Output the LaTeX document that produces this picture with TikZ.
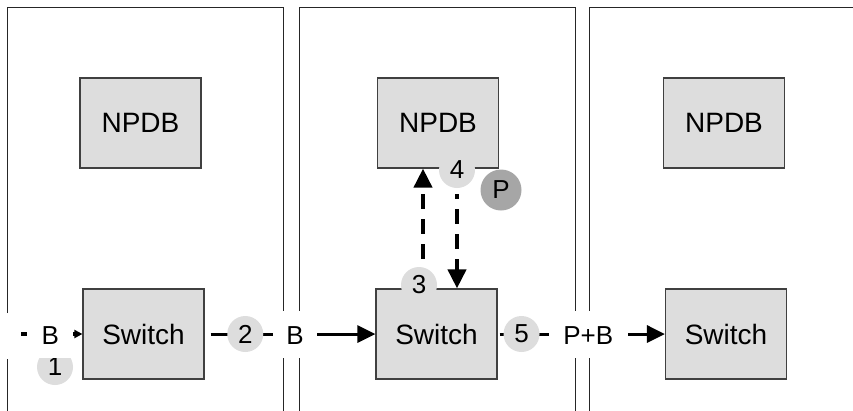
\documentclass[tikz,border=0pt]{standalone}
\usepackage{fontspec}
\setmainfont{Liberation Sans}
\usetikzlibrary{arrows.meta,calc}
\definecolor{boxgray}{HTML}{DDDDDD}
\definecolor{pgray}{HTML}{A6A6A6}
\definecolor{edgegray}{HTML}{404040}
\begin{document}
\begin{tikzpicture}[x=1pt,y=-1pt,
  panel/.style={draw=black!85,line width=1pt},
  unit/.style={draw=edgegray,line width=1.2pt,fill=boxgray,minimum width=121pt,minimum height=90pt,inner sep=0pt,font=\fontsize{28}{30}\selectfont},
  num/.style={circle,fill=boxgray,minimum size=36pt,inner sep=0pt,font=\fontsize{26}{28}\selectfont},
  msg/.style={fill=white,inner xsep=13pt,inner ysep=0pt,text height=20pt,text depth=0pt,minimum height=47pt,font=\fontsize{26}{28}\selectfont},
  flow/.style={line width=3pt,-{Triangle[length=18pt,width=17pt]}},
  query/.style={line width=4pt,dash pattern=on 15pt off 10pt,-{Triangle[length=19pt,width=18pt]}},
]
\useasboundingbox (0,0) rectangle (853,410);
% panels
\draw[panel] (7,420) -- (7,359) (7,313) -- (7,7) -- (283,7) -- (283,420);
\draw[panel] (299,420) -- (299,7) -- (575,7) -- (575,420);
\draw[panel] (589,420) -- (589,7) -- (870,7);
% boxes
\node[unit] (npdb1) at (140.5,123) {NPDB};
\node[unit] (npdb2) at (438,123) {NPDB};
\node[unit] (npdb3) at (724,123) {NPDB};
\node[unit] (sw1) at (143.5,334) {Switch};
\node[unit] (sw2) at (436.5,334) {Switch};
\node[unit] (sw3) at (726,334) {Switch};
% step circles
\node[num] (c3) at (419,285) {3};
\node[num] (c4) at (457,170) {4};
\node[num,fill=pgray,minimum size=41pt] (p) at (501,190) {P};
\node[num] (c1) at (55,367) {1};
% query arrows
\draw[query,dash phase=17pt] ([xshift=4pt]c3.north) -- ([xshift=4pt]c3.north |- npdb2.south);
\draw[query,dash phase=10pt] ([yshift=-6pt]c4.south) -- (c4.south |- sw2.north);
% flows
\coordinate (src) at (21,334);
\draw[line width=4pt,-{Triangle[length=8pt,width=8pt]}] (src) -- node[msg,pos=0.476,inner xsep=14.5pt]{B} (sw1.west);
\draw[flow,shorten <=6pt] (sw1.east) -- node[num,pos=0.238]{2} node[msg,pos=0.529]{B} (sw2.west);
\draw[flow,shorten <=2pt] (sw2.east) -- node[num,pos=0.143]{5} node[msg,pos=0.542,inner xsep=14.5pt]{P+B} (sw3.west);
\end{tikzpicture}
\end{document}
